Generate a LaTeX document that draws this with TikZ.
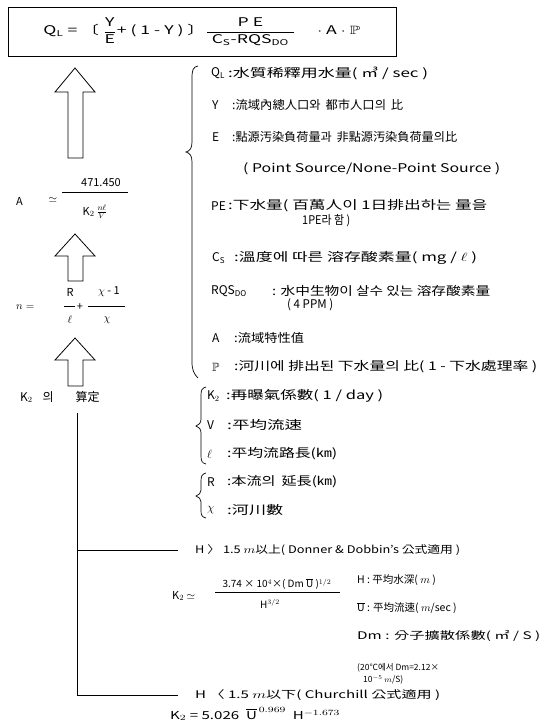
\documentclass[tikz,border=0pt]{standalone}
\usepackage{amsmath,amssymb}
\usepackage{graphicx}
\usepackage{fontspec}
\setmainfont{Noto Sans CJK KR}
\newcommand\fitw[2]{\resizebox{#1}{\height}{#2}}
\tikzset{
  lbl/.style={anchor=west, inner sep=0pt, font=\fontsize{12}{14}\selectfont},
  sml/.style={anchor=west, inner sep=0pt, font=\fontsize{10.5}{12}\selectfont},
  smalltxt/.style={anchor=west, inner sep=0pt, font=\fontsize{8.5}{10}\selectfont},
  mth/.style={inner sep=0pt, font=\fontsize{11}{13}\selectfont},
  hollow/.style={draw, line width=0.8pt, fill=white, line join=miter},
  bracep/.style={draw, line width=0.7pt},
  rulel/.style={draw, line width=0.6pt},
  barl/.style={draw, line width=0.5pt},
}
\begin{document}
\begin{tikzpicture}[x=1pt,y=-1pt]
\useasboundingbox (0,0) rectangle (540,726);
\fill[white] (0,0) rectangle (540,726);

% main formula box
\node (qbox) [draw, line width=0.8pt, minimum width=388pt, minimum height=49pt, inner sep=0pt] at (202,32)
  {\fontsize{12}{14}\selectfont\fitw{317pt}{Q$_{\text{L}}$ = 〔 $\dfrac{\text{Y}}{\text{E}}$+ ( 1 - Y ) 〕$\dfrac{\text{P E}}{\;\text{C}_{\text{S}}\text{-RQS}_{\text{DO}}\;}$ \quad$\cdot$ A $\cdot$ $\mathbb{P}$}};

% hollow arrows
\draw[hollow] (75,68) -- (95,92) -- (83,92) -- (83,158) -- (68,158) -- (68,92) -- (55,92) -- cycle;
\draw[hollow] (75,234) -- (95,256) -- (83,256) -- (83,281) -- (68,281) -- (68,256) -- (55,256) -- cycle;
\draw[hollow] (75,338) -- (95,360) -- (83,360) -- (83,386) -- (68,386) -- (68,360) -- (55,360) -- cycle;

% A formula
\node[mth, anchor=west] (aA) at (16,201) {A};
\node[mth] (aeq) at (53,200) {$\simeq$};
\node[mth] (anum) at (101,183) {471.450};
\draw[barl] (62,192) -- (128,192);
\node[mth] (aden) at (95,212) {$\mathrm{K}_2\,\frac{n\ell}{V}$};

% n formula
\node[mth, anchor=west] (nn) at (16,307) {$n =$};
\node[mth] (nR) at (70,292) {R};
\draw[barl] (64,306) -- (75,306);
\node[mth] (nl) at (70,320) {$\ell$};
\node[mth] (nplus) at (80,307) {+};
\node[mth] (nchi1) at (109,292) {$\chi$ - 1};
\draw[barl] (88,306) -- (125,306);
\node[mth] (nchi) at (107,320) {$\chi$};

% K2 label and trunk
\node[lbl] (k2lab) at (20,397) {K$_2$\hspace{10pt}의\hspace{22pt}算定};
\coordinate (t0) at (77,413);
\coordinate (t1) at (77,550);
\coordinate (t2) at (77,695);
\coordinate (e1) at (178,550);
\coordinate (e2) at (178,695);
\draw[rulel] (t0) -- (t2);
\draw[rulel] (t1) -- (e1);
\draw[rulel] (t2) -- (e2);

% brace 1
\draw[bracep] (198,66) .. controls (193,67) and (192,70) .. (192,78) -- (192,142)
  .. controls (192,148) and (190,151) .. (186,152) .. controls (190,153) and (192,156) .. (192,162)
  -- (192,362) .. controls (192,370) and (194,374) .. (198,378);

% right column
\node[lbl] (ql) at (211,73) {Q$_{\text{L}}$};
\node[lbl] (qlt) at (228,73) {\fitw{200pt}{:水質稀釋用水量( ㎥ / sec )}};
\node[lbl] (yy) at (212,105) {Y};
\node[lbl] (yyt) at (232,105) {\fitw{171pt}{:流域內總人口와 \,都市人口의 \,比}};
\node[lbl] (ee) at (212,137) {E};
\node[lbl] (eet) at (232,137) {\fitw{225pt}{:點源汚染負荷量과 \,非點源汚染負荷量의比}};
\node[lbl] (ps) at (243,169) {\fitw{257pt}{( Point Source/None-Point Source )}};
\node[lbl] (pe) at (211,206) {PE};
\node[lbl] (pet) at (228,206) {\fitw{259pt}{:下水量( 百萬人이 1日排出하는 量을}};
\node[lbl] (pe2) at (302,221) {\fitw{48pt}{1PE라 함 )}};
\node[lbl] (cs) at (212,258) {C$_{\text{S}}$};
\node[lbl] (cst) at (234,258) {\fitw{243pt}{:溫度에 따른 溶存酸素量( mg / $\ell$ )}};
\node[lbl] (rq) at (211,291) {RQS$_{\text{DO}}$};
\node[lbl] (rqt) at (272,291) {\fitw{218pt}{: 水中生物이 살수 있는 溶存酸素量}};
\node[lbl] (rq2) at (287,305) {\fitw{46pt}{( 4 PPM )}};
\node[lbl] (aa) at (212,338) {A};
\node[lbl] (aat) at (234,338) {\fitw{70pt}{:流域特性值}};
\node[lbl] (pp) at (212,367) {$\mathbb{P}$};
\node[lbl] (ppt) at (234,367) {\fitw{303pt}{:河川에 排出된 下水量의 比( 1 - 下水處理率 )}};

% brace 2a and 2b
\draw[bracep] (206,387) .. controls (202,388) and (201,390) .. (201,395) -- (201,419)
  .. controls (201,423) and (199,425) .. (196,426) .. controls (199,427) and (201,429) .. (201,433)
  -- (201,456) .. controls (201,461) and (202,463) .. (206,464);
\draw[bracep] (206,473) .. controls (202,474) and (201,476) .. (201,481) -- (201,490)
  .. controls (201,493) and (199,495) .. (196,496) .. controls (199,497) and (201,499) .. (201,502)
  -- (201,511) .. controls (201,515) and (202,517) .. (206,518);

\node[lbl] (kk) at (207,396) {K$_2$};
\node[lbl] (kkt) at (226,396) {\fitw{157pt}{:再曝氣係數( 1 / day )}};
\node[lbl] (vv) at (207,425) {V};
\node[lbl] (vvt) at (227,425) {\fitw{75pt}{:平均流速}};
\node[lbl] (ll) at (207,454) {$\ell$};
\node[lbl] (llt) at (227,454) {\fitw{110pt}{:平均流路長(㎞)}};
\node[lbl] (rr) at (207,482) {R};
\node[lbl] (rrt) at (227,482) {\fitw{110pt}{:本流의 \,延長(㎞)}};
\node[lbl] (cc) at (207,510) {$\chi$};
\node[lbl] (cct) at (227,510) {\fitw{56pt}{:河川數}};

% H > 1.5
\node[sml] (h1) at (195,550) {\fitw{265pt}{H 〉 1.5 $m$以上( Donner \& Dobbin's 公式適用 )}};
\node[mth, anchor=west] (k2f) at (172,596) {K$_2$ $\simeq$};
\node[mth] (k2n) at (277,584) {\fontsize{10}{11}\selectfont 3.74 × 10$^4$×( Dm $\overline{\text{U}}$ )$^{1/2}$};
\draw[barl] (215,592) -- (340,592);
\node[mth] (k2d) at (270,604) {\fontsize{10}{11}\selectfont H$^{3/2}$};
\node[sml] (hh) at (357,580) {H : 平均水深( $m$ )};
\node[sml] (uu) at (357,608) {$\overline{\text{U}}$ : 平均流速( $m$/sec )};
\node[sml] (dm) at (357,636) {\fitw{183pt}{Dm : 分子擴散係數( ㎡ / S )}};
\node[smalltxt] (tc) at (357,668) {(20℃에서 Dm=2.12×};
\node[smalltxt] (tc2) at (363,680) {10$^{-5}$ $m$/S)};
\node[sml] (h2) at (195,695) {\fitw{245pt}{H 〈 1.5 $m$以下( Churchill 公式適用 )}};
\node[mth, anchor=west] (k2g) at (170,714) {\fitw{170pt}{K$_2$ = 5.026 \ $\overline{\text{U}}^{\,0.969}$\ \ H$^{-1.673}$}};
\end{tikzpicture}
\end{document}
